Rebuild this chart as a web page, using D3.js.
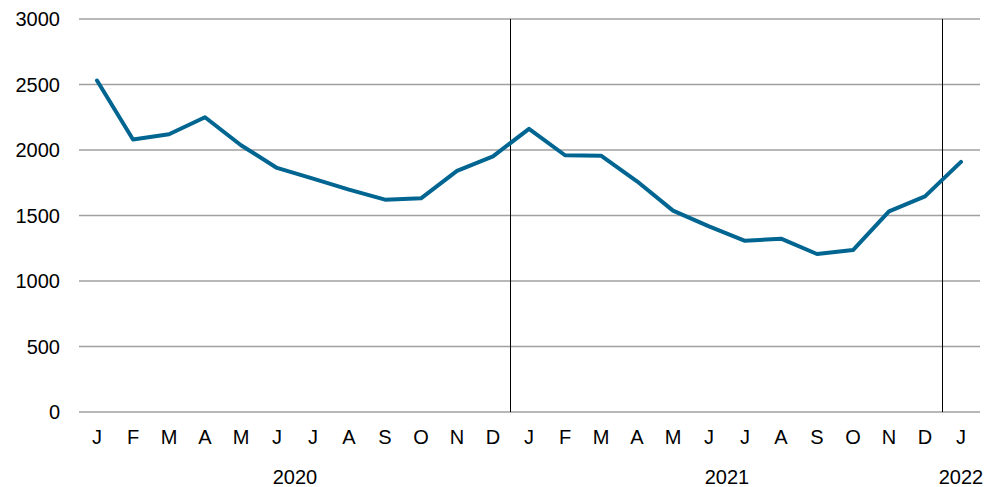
<!DOCTYPE html>
<html>
<head>
<meta charset="utf-8">
<script src="https://cdn.jsdelivr.net/npm/d3@7"></script>
<style>
  body { margin: 0; background: #fff; }
  text { font-family: "Liberation Sans", Arial, sans-serif; fill: #000; }
</style>
</head>
<body>
<div id="chart"></div>
<script>
// Datos
const months = ["J","F","M","A","M","J","J","A","S","O","N","D",
                "J","F","M","A","M","J","J","A","S","O","N","D","J"];
const values = [2530, 2080, 2120, 2250, 2036, 1863, 1781, 1697, 1621, 1631, 1840, 1952,
                2161, 1960, 1957, 1761, 1537, 1417, 1307, 1323, 1206, 1236, 1532, 1646, 1909];
const years = ["2020", "2021", "2022"];
const yearStart = [0, 12, 24];
const yearLen = [12, 12, 1];
const yTicks = [0, 500, 1000, 1500, 2000, 2500, 3000];

const width = 1000, height = 487;
const plotLeft = 79, plotRight = 979, plotTop = 19, plotBottom = 412;
const fontSize = 20;

const svg = d3.select("#chart").append("svg")
    .attr("width", width)
    .attr("height", height);

const x = d3.scaleBand()
    .domain(d3.range(months.length))
    .range([plotLeft, plotRight]);

const y = d3.scaleLinear()
    .domain([0, 3000])
    .range([plotBottom, plotTop]);

// Lineas de la cuadricula
svg.selectAll(".grid")
    .data(yTicks)
    .enter().append("line")
    .attr("x1", plotLeft)
    .attr("x2", plotRight + 1)
    .attr("y1", d => y(d))
    .attr("y2", d => y(d))
    .attr("stroke", "#a0a0a0")
    .attr("stroke-width", 1.5);

// Etiquetas eje Y
svg.selectAll(".ylab")
    .data(yTicks)
    .enter().append("text")
    .attr("x", 60)
    .attr("y", d => y(d))
    .attr("dy", "0.35em")
    .attr("text-anchor", "end")
    .attr("font-size", fontSize)
    .text(d => d);

// Separadores de año
svg.selectAll(".sep")
    .data(yearStart.slice(1))
    .enter().append("line")
    .attr("x1", d => Math.round(x(d)) - 0.5)
    .attr("x2", d => Math.round(x(d)) - 0.5)
    .attr("y1", plotTop)
    .attr("y2", plotBottom)
    .attr("stroke", "#000")
    .attr("stroke-width", 1);

// Etiquetas de meses
svg.selectAll(".mlab")
    .data(months)
    .enter().append("text")
    .attr("x", (d, i) => x(i) + x.bandwidth() / 2)
    .attr("y", 437)
    .attr("dy", "0.35em")
    .attr("text-anchor", "middle")
    .attr("font-size", fontSize)
    .text(d => d);

// Etiquetas de años
svg.selectAll(".yearlab")
    .data(years)
    .enter().append("text")
    .attr("x", (d, i) => x(yearStart[i]) + x.bandwidth() * yearLen[i] / 2)
    .attr("y", 477)
    .attr("dy", "0.35em")
    .attr("text-anchor", "middle")
    .attr("font-size", fontSize)
    .text(d => d);

// Linea de datos
const line = d3.line()
    .x((d, i) => x(i) + x.bandwidth() / 2)
    .y(d => y(d));

svg.append("path")
    .datum(values)
    .attr("d", line)
    .attr("fill", "none")
    .attr("stroke", "#006591")
    .attr("stroke-width", 4)
    .attr("stroke-linejoin", "round")
    .attr("stroke-linecap", "round");
</script>
</body>
</html>
